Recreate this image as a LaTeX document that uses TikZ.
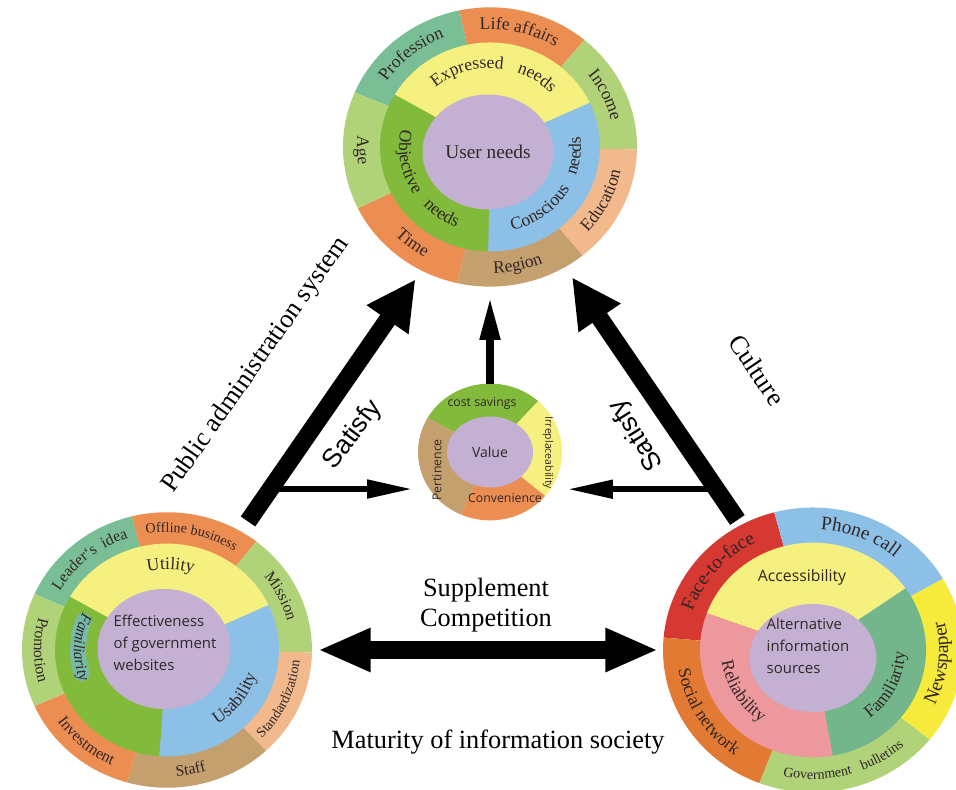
\documentclass[tikz,border=0pt]{standalone}
\usepackage{fontspec}
\setmainfont{Liberation Serif}
\setsansfont{Open Sans}
\newfontfamily\arialfont{Liberation Sans}
\usepackage{tikz}
\usetikzlibrary{positioning,arrows.meta,shapes.geometric,decorations.text,calc}
\definecolor{SegOrange}{RGB}{236,142,82}
\definecolor{SegTeal}{RGB}{122,190,150}
\definecolor{SegLime}{RGB}{176,211,122}
\definecolor{SegPeach}{RGB}{242,186,140}
\definecolor{SegTan}{RGB}{196,160,110}
\definecolor{SegYellow}{RGB}{246,240,128}
\definecolor{SegBlue}{RGB}{140,192,230}
\definecolor{SegGreen}{RGB}{130,186,60}
\definecolor{SegPurple}{RGB}{196,176,210}
\definecolor{SegRed}{RGB}{214,56,50}
\definecolor{SegRust}{RGB}{226,122,52}
\definecolor{SegGold}{RGB}{246,234,60}
\definecolor{SegSea}{RGB}{116,182,140}
\definecolor{SegPink}{RGB}{236,152,156}
\definecolor{BandTeal}{RGB}{120,186,168}
\definecolor{LabelInk}{RGB}{50,38,38}
\newcommand{\lblA}{\fontsize{10}{12}\selectfont}
\newcommand{\lblB}{\fontsize{9}{11}\selectfont}
\newcommand{\lblC}{\fontsize{8}{10}\selectfont}
\newcommand{\lblD}{\fontsize{11}{13}\selectfont}
\newcommand{\pieslice}[5]{%
  \fill[#5, shift={(#1)}, yscale=0.95] (0,0) -- (#2:#4) arc[start angle=#2, end angle=#3, radius=#4] -- cycle;}
\newcommand{\cwlabel}[5]{%
  \path[shift={(#1)}, yscale=0.95, decorate, decoration={text along path, text align=center, text color=LabelInk, text={|#4|#5}}]
    ({#2+60}:#3) arc[start angle={#2+60}, end angle={#2-60}, radius=#3];}
\newcommand{\ccwlabel}[5]{%
  \path[shift={(#1)}, yscale=0.95, decorate, decoration={text along path, text align=center, text color=LabelInk, text={|#4|#5}}]
    ({#2-60}:#3) arc[start angle={#2-60}, end angle={#2+60}, radius=#3];}
\begin{document}
\begin{tikzpicture}[x=0.02cm, y=0.02cm,
    disc/.style={ellipse, inner sep=0pt, outer sep=0pt},
    hub/.style={ellipse, fill=SegPurple, inner sep=0pt, text=LabelInk},
    hubtext/.style={font=\sffamily\fontsize{8.5}{12.5}\selectfont, align=left, text=LabelInk},
    smalltext/.style={font=\sffamily\fontsize{7}{8}\selectfont, text=LabelInk, inner sep=0pt},
    bigarrow/.style={line width=10pt, -{Triangle[length=28pt, width=27pt]}},
    dblarrow/.style={line width=10.5pt, {Triangle[length=30pt, width=23pt]}-{Triangle[length=30pt, width=23pt]}},
    midarrow/.style={line width=4pt, -{Triangle[length=24pt, width=11pt]}},
    thinarrow/.style={line width=3.5pt, -{Triangle[length=26pt, width=10pt]}},
    bigtext/.style={font=\fontsize{15}{17}\selectfont},
    satisfy/.style={font=\arialfont\fontsize{15}{18}\selectfont}
]
    \useasboundingbox (0,0) rectangle (956,790);

    \node[disc, minimum width=5.88cm, minimum height=5.59cm] (needs) at (490,643) {};
    \node[disc, minimum width=5.80cm, minimum height=5.51cm] (site) at (167,140) {};
    \node[disc, minimum width=6.00cm, minimum height=5.70cm] (alt) at (813,140) {};
    \node[disc, minimum width=2.88cm, minimum height=2.74cm] (val) at (490,338) {};

    \pieslice{needs}{102}{157}{147}{SegTeal}
    \pieslice{needs}{50}{102}{147}{SegOrange}
    \pieslice{needs}{-1}{50}{147}{SegLime}
    \pieslice{needs}{-51}{-1}{147}{SegPeach}
    \pieslice{needs}{-103}{-51}{147}{SegTan}
    \pieslice{needs}{206}{257}{147}{SegOrange}
    \pieslice{needs}{157}{206}{147}{SegLime}
    \pieslice{needs}{25}{150}{110}{SegYellow}
    \pieslice{needs}{-91}{25}{110}{SegBlue}
    \pieslice{needs}{150}{269}{110}{SegGreen}
    \node[hub, minimum width=2.62cm, minimum height=2.3cm, font=\fontsize{11}{13}\selectfont] (userneeds) at (488,638) {User needs};

    \pieslice{site}{104}{156}{145}{SegTeal}
    \pieslice{site}{52}{104}{145}{SegOrange}
    \pieslice{site}{-1}{52}{145}{SegLime}
    \pieslice{site}{-47}{-1}{145}{SegPeach}
    \pieslice{site}{-106}{-47}{145}{SegTan}
    \pieslice{site}{204}{254}{145}{SegOrange}
    \pieslice{site}{156}{204}{145}{SegLime}
    \pieslice{site}{25}{150}{112}{SegYellow}
    \pieslice{site}{-94}{25}{112}{SegBlue}
    \pieslice{site}{150}{266}{112}{SegGreen}
    \draw[line width=9pt, line cap=round, BandTeal, shift={(site)}, yscale=0.95] (160:89) arc[start angle=160, end angle=196, radius=89];
    \node[hub, minimum width=2.66cm, minimum height=2.4cm] (effect) at (164,141) {};
    \node[hubtext] (effecttext) at (165,147) {Effectiveness\\of government\\websites};

    \pieslice{alt}{105}{175}{150}{SegRed}
    \pieslice{alt}{30}{105}{150}{SegBlue}
    \pieslice{alt}{-39}{30}{150}{SegGold}
    \pieslice{alt}{-111}{-39}{150}{SegLime}
    \pieslice{alt}{175}{249}{150}{SegRust}
    \pieslice{alt}{35}{160}{113}{SegYellow}
    \pieslice{alt}{-80}{35}{113}{SegSea}
    \pieslice{alt}{160}{280}{113}{SegPink}
    \node[hub, minimum width=2.54cm, minimum height=2.16cm] (altsrc) at (813,132) {};
    \node[hubtext] (altsrctext) at (808,144) {Alternative\\information\\sources};
    \node[hubtext, font=\sffamily\fontsize{9}{11}\selectfont] (access) at (802,213) {Accessibility};

    \pieslice{val}{48}{150}{72}{SegGreen}
    \pieslice{val}{-40}{48}{72}{SegYellow}
    \pieslice{val}{-114}{-40}{72}{SegOrange}
    \pieslice{val}{150}{246}{72}{SegTan}
    \node[hub, minimum width=1.72cm, minimum height=1.42cm, font=\sffamily\fontsize{8}{10}\selectfont] (value) at (490,338) {Value};
    \node[smalltext] (cost) at (482,387) {cost savings};
    \node[smalltext, rotate=-90, font=\sffamily\fontsize{6}{7}\selectfont] (irr) at (548,337) {Irreplaceability};
    \node[smalltext] (conv) at (505,292) {Convenience};
    \node[smalltext, rotate=90] (pert) at (437,320) {Pertinence};

    \cwlabel{needs}{130}{124}{\lblA}{Profession}
    \cwlabel{needs}{76}{124}{\lblA}{Life affairs}
    \cwlabel{needs}{24.5}{124}{\lblA}{Income}
    \ccwlabel{needs}{-26}{133}{\lblA}{Education}
    \ccwlabel{needs}{-77}{133}{\lblA}{Region}
    \ccwlabel{needs}{231.5}{133}{\lblA}{Time}
    \ccwlabel{needs}{181.5}{133}{\lblA}{Age}
    \cwlabel{needs}{87}{83}{\lblA}{Expressed{\hspace{8pt}}needs}
    \ccwlabel{needs}{208}{91}{\lblA}{Objective{\hspace{8pt}}needs}
    \ccwlabel{needs}{-34}{91}{\lblA}{Conscious{\hspace{8pt}}needs}

    \cwlabel{site}{130}{124}{\lblB}{Leader`s{\hspace{4pt}}idea}
    \cwlabel{site}{78}{124}{\lblC}{Offline business}
    \cwlabel{site}{25.5}{124}{\lblB}{Mission}
    \ccwlabel{site}{-24}{133}{\lblC}{Standardization}
    \ccwlabel{site}{-79}{133}{\lblB}{Staff}
    \ccwlabel{site}{229}{133}{\lblB}{Investment}
    \ccwlabel{site}{180}{133}{\lblB}{Promotion}
    \cwlabel{site}{87.5}{85}{\lblA}{Utility}
    \ccwlabel{site}{178}{93}{\lblB\itshape}{Familiarity}
    \ccwlabel{site}{-36}{93}{\lblA}{Usability}

    \cwlabel{alt}{140}{127}{\lblD}{Face-to-face}
    \cwlabel{alt}{67.5}{127}{\lblD}{Phone call}
    \ccwlabel{alt}{-6}{135}{\lblD}{Newspaper}
    \ccwlabel{alt}{-75}{136}{\lblC}{Government{\hspace{6pt}}bulletins}
    \ccwlabel{alt}{211}{136}{\lblA}{Social network}
    \ccwlabel{alt}{-26}{92}{\lblA}{Familiarity}
    \ccwlabel{alt}{211}{92}{\lblA}{Reliability}

    \draw[bigarrow, shorten <=7pt, shorten >=6pt] (site.58) -- (needs.241);
    \draw[bigarrow, shorten <=3.5pt, shorten >=7pt] (alt.120) -- (needs.302);
    \draw[dblarrow, shorten <=3.4pt, shorten >=2.8pt] (site.east) -- (alt.west);
    \draw[midarrow, shorten >=6.3pt] (val.north) -- (needs.south);
    \coordinate (lj) at ($(site.58)!0.163!(needs.241)$);
    \coordinate (rj) at ($(alt.120)!0.139!(needs.302)$);
    \draw[thinarrow, shorten >=3pt] (lj) -- (lj -| val.west);
    \draw[thinarrow, shorten >=3pt] (rj) -- (rj -| val.east);

    \node[bigtext, rotate=55] (pas) at (256,425) {Public administration system};
    \node[satisfy, rotate=53] (satl) at (353,355) {Satisfy};
    \node[satisfy, rotate=122] (satr) at (637,355) {Satisfy};
    \node[bigtext, rotate=-56] (cult) at (757,420) {Culture};
    \node[bigtext, align=center] (supp) at (486,185) {Supplement\\Competition};
    \node[bigtext] (mat) at (498,48) {Maturity of information society};
\end{tikzpicture}
\end{document}
